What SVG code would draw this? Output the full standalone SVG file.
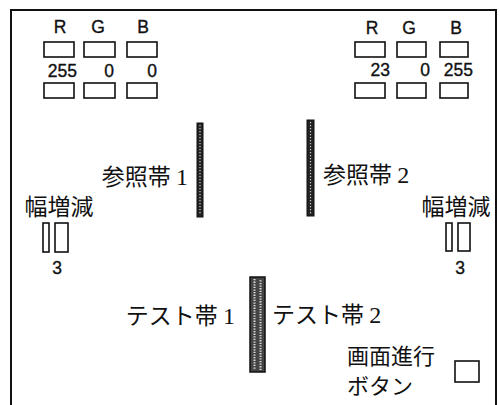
<svg xmlns="http://www.w3.org/2000/svg" width="500" height="405" viewBox="0 0 500 405">
<defs>
<style>
.frame{fill:none;stroke:#111;stroke-width:2}
.box{fill:#fff;stroke:#111;stroke-width:1.6}
.lat{font-family:"Liberation Sans",Arial,sans-serif;font-size:17.5px;fill:#111;stroke:#111;stroke-width:0.35}
.jp{font-family:"Noto Sans CJK JP","Noto Sans CJK SC",sans-serif;font-size:23px;fill:#111}
.dig{font-family:"Liberation Serif","Times New Roman",serif;font-size:24px}
.strip{fill:#222;stroke:#111;stroke-width:1}
.dots{fill:none;stroke:#ccc;stroke-width:1.2;stroke-dasharray:1.2 1.8}
</style>
</defs>
<rect width="500" height="405" fill="#fff"/>
<g id="frame">
<path class="frame" d="M11,406 V10 H496 V406"/>
</g>
<g id="rgb-left">
<text class="lat" x="60" y="33" text-anchor="middle">R</text>
<text class="lat" x="98" y="33" text-anchor="middle">G</text>
<text class="lat" x="143" y="33" text-anchor="middle">B</text>
<rect class="box" x="44" y="42" width="30" height="15"/>
<rect class="box" x="84" y="42" width="31" height="15"/>
<rect class="box" x="127" y="42" width="30" height="15"/>
<text class="lat" x="77" y="77" text-anchor="end">255</text>
<text class="lat" x="114" y="77" text-anchor="end">0</text>
<text class="lat" x="157" y="77" text-anchor="end">0</text>
<rect class="box" x="44" y="83" width="30" height="15"/>
<rect class="box" x="84" y="83" width="31" height="15"/>
<rect class="box" x="127" y="83" width="30" height="15"/>
</g>
<g id="rgb-right">
<text class="lat" x="372" y="34" text-anchor="middle">R</text>
<text class="lat" x="409" y="34" text-anchor="middle">G</text>
<text class="lat" x="456" y="34" text-anchor="middle">B</text>
<rect class="box" x="355" y="42" width="30" height="15"/>
<rect class="box" x="397" y="42" width="29" height="15"/>
<rect class="box" x="440" y="42" width="28" height="15"/>
<text class="lat" x="390" y="76" text-anchor="end">23</text>
<text class="lat" x="430" y="76" text-anchor="end">0</text>
<text class="lat" x="473" y="76" text-anchor="end">255</text>
<rect class="box" x="355" y="83" width="30" height="15"/>
<rect class="box" x="397" y="83" width="29" height="15"/>
<rect class="box" x="440" y="83" width="28" height="15"/>
</g>
<g id="ref-strip-1">
<rect class="strip" x="197" y="123" width="6" height="94"/>
<line class="dots" x1="200" y1="125" x2="200" y2="215"/>
<text class="jp" x="188" y="185" text-anchor="end">参照帯 <tspan class="dig">1</tspan></text>
</g>
<g id="ref-strip-2">
<rect class="strip" x="307" y="120" width="7" height="96"/>
<line class="dots" x1="310.5" y1="122" x2="310.5" y2="214"/>
<text class="jp" x="323" y="183">参照帯 <tspan class="dig">2</tspan></text>
</g>
<g id="width-left">
<text class="jp" x="59" y="215" text-anchor="middle">幅増減</text>
<rect class="box" x="43" y="223" width="6" height="29"/>
<rect class="box" x="55" y="223" width="13" height="29"/>
<text class="lat" x="57" y="274" text-anchor="middle">3</text>
</g>
<g id="width-right">
<text class="jp" x="456" y="215" text-anchor="middle">幅増減</text>
<rect class="box" x="446" y="223" width="6" height="28"/>
<rect class="box" x="458" y="223" width="12" height="28"/>
<text class="lat" x="460" y="274" text-anchor="middle">3</text>
</g>
<g id="test-strip">
<rect x="250" y="277" width="15" height="95" fill="#444" stroke="#111" stroke-width="1.5"/>
<line x1="254.5" y1="279" x2="254.5" y2="370" stroke="#ddd" stroke-width="2" stroke-dasharray="1.3 1.3"/>
<line x1="260.5" y1="279" x2="260.5" y2="370" stroke="#ddd" stroke-width="2" stroke-dasharray="1.3 1.3" stroke-dashoffset="1.3"/>
<text class="jp" x="235" y="324" text-anchor="end">テスト帯 <tspan class="dig">1</tspan></text>
<text class="jp" x="272" y="323">テスト帯 <tspan class="dig">2</tspan></text>
</g>
<g id="next-button">
<text class="jp" x="347" y="364" style="font-size:22px">画面進行</text>
<text class="jp" x="347" y="394" style="font-size:22px">ボタン</text>
<rect class="box" x="455" y="361" width="24" height="21"/>
</g>
</svg>
